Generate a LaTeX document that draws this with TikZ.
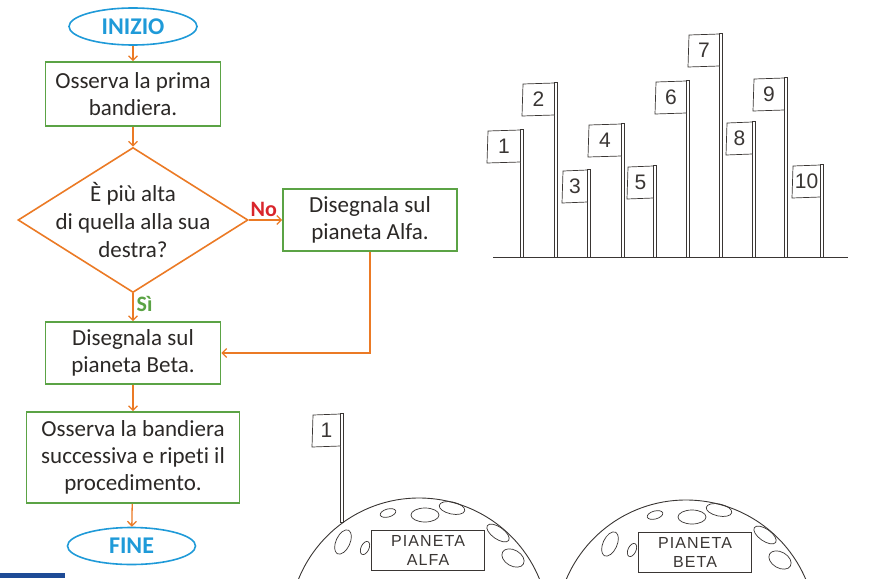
\documentclass[tikz,border=0pt]{standalone}
\usepackage{fontspec}
\setmainfont{Carlito}[Ligatures=NoCommon]
\newfontfamily\handfont{Liberation Sans}
\newfontfamily\tagfont[LetterSpace=7]{Liberation Sans}
\usetikzlibrary{shapes.geometric,arrows.meta,positioning}

\definecolor{flowgreen}{HTML}{5BA345}
\definecolor{floworange}{HTML}{EB7A25}
\definecolor{flowblue}{HTML}{1F9AD8}
\definecolor{flowred}{HTML}{D9262C}
\definecolor{inktext}{HTML}{2B2826}
\definecolor{sketch}{HTML}{3A3634}
\definecolor{barblue}{HTML}{1E4B96}

\begin{document}
\begin{tikzpicture}[x=1pt,y=-1pt,
  term/.style={ellipse,draw=flowblue,line width=1.6pt,minimum width=128pt,minimum height=37pt,
    inner sep=0pt,text=flowblue,font=\fontsize{24}{26}\selectfont\bfseries},
  box/.style={rectangle,draw=flowgreen,line width=1.6pt,align=center,inner sep=0pt,
    text=inktext,font=\fontsize{23}{27}\selectfont},
  decision/.style={diamond,draw=floworange,line width=1.6pt,minimum width=230pt,
    minimum height=145pt,inner sep=0pt},
  qtext/.style={align=center,text=inktext,font=\fontsize{23}{28}\selectfont},
  arr/.style={-{Straight Barb[length=4.5pt,width=9pt]},draw=floworange,line width=1.3pt},
  lbl/.style={font=\fontsize{22}{22}\selectfont\bfseries,inner sep=3pt},
  ink/.style={draw=sketch,line width=0.7pt},
  flagnum/.style={font=\handfont\fontsize{21}{21}\selectfont,text=sketch,inner sep=0pt},
  tag/.style={ink,fill=white,align=center,inner sep=0pt,text=sketch,
    font=\tagfont\fontsize{16}{19}\selectfont}
]
\useasboundingbox (0,0) rectangle (869,578);

% flowchart
\node[term] (start) at (133,26.5) {INIZIO};
\node[box,minimum width=175pt,minimum height=64pt] (obs) at (133,94) {Osserva la prima\\bandiera.};
\node[decision,label={[qtext]center:{È più alta\\di quella alla sua\\destra?}}] (ask) at (133,220) {};
\node[box,minimum width=174pt,minimum height=62pt] (alfa) at (370,220) {Disegnala sul\\pianeta Alfa.};
\node[box,minimum width=175pt,minimum height=62pt] (beta) at (133,353) {Disegnala sul\\pianeta Beta.};
\node[box,minimum width=213pt,minimum height=91pt] (next) at (133,457.5) {Osserva la bandiera\\successiva e ripeti il\\procedimento.};
\node[term] (stop) at (131.5,546) {FINE};

\draw[arr] (start) -- (obs);
\draw[arr] (obs) -- (ask);
\draw[arr] (ask) -- node[lbl,above,pos=0.45,text=flowred] {No} (alfa);
\draw[arr] (ask) -- node[lbl,right,pos=0.38,text=flowgreen] {Sì} (beta);
\draw[arr] (alfa.south) |- (beta.east);
\draw[arr] (beta) -- (next);
\draw[arr] (next) -- (stop);

% flags in a row
\foreach \px/\py/\w/\n in {522/129/34/1,556/82/33/2,589/169/26/3,623/123/34/4,655/165/27/5,
    688/80/32/6,721/33/32/7,754/121/27/8,786/77/32/9,822/164/29/10}{
  \draw[ink,fill=white] (\px-1.5,\py) rectangle (\px+1.5,257);
  \draw[ink,fill=white] (\px-1.5,\py+1) -- (\px-\w,\py+2) -- (\px-\w-1,\py+34) -- (\px-1.5,\py+33) -- cycle;
  \node[flagnum] at (\px-\w/2-1,\py+17.5) {\n};
}
\draw[ink] (493,257) -- (848,257);

% the two planets
\begin{scope}
  \clip (0,0) rectangle (869,578);
  \foreach \cx/\cy/\name in {419/628/ALFA,686/630/BETA}{
    \draw[ink,line width=0.9pt,fill=white] (\cx,\cy) circle[radius=130];
    \foreach \dx/\dy/\rx/\ry/\rot in {-31/-115/8/4/15,6/-113/14/7/0,33/-120/13/6/-12,
        -76/-86/7/13/-25,-54/-80/4/7/-25,79/-95/13/6/-35,94/-70/12/8/-30}
      \draw[ink,shift={(\cx+\dx,\cy+\dy)},rotate=\rot] (0,0) ellipse[x radius=\rx,y radius=\ry];
    \node[tag,minimum width=113pt,minimum height=40pt] at (\cx+9,\cy-78) {PIANETA\\\name};
  }
\end{scope}

% flag 1 already placed on Alfa
\draw[ink,fill=white] (340.5,413) rectangle (343.5,522);
\draw[ink,fill=white] (340.5,414) -- (313,415) -- (312,447) -- (340.5,446) -- cycle;
\node[flagnum] at (326.5,430.5) {1};

\fill[barblue] (0,573) rectangle (65,578);
\end{tikzpicture}
\end{document}
